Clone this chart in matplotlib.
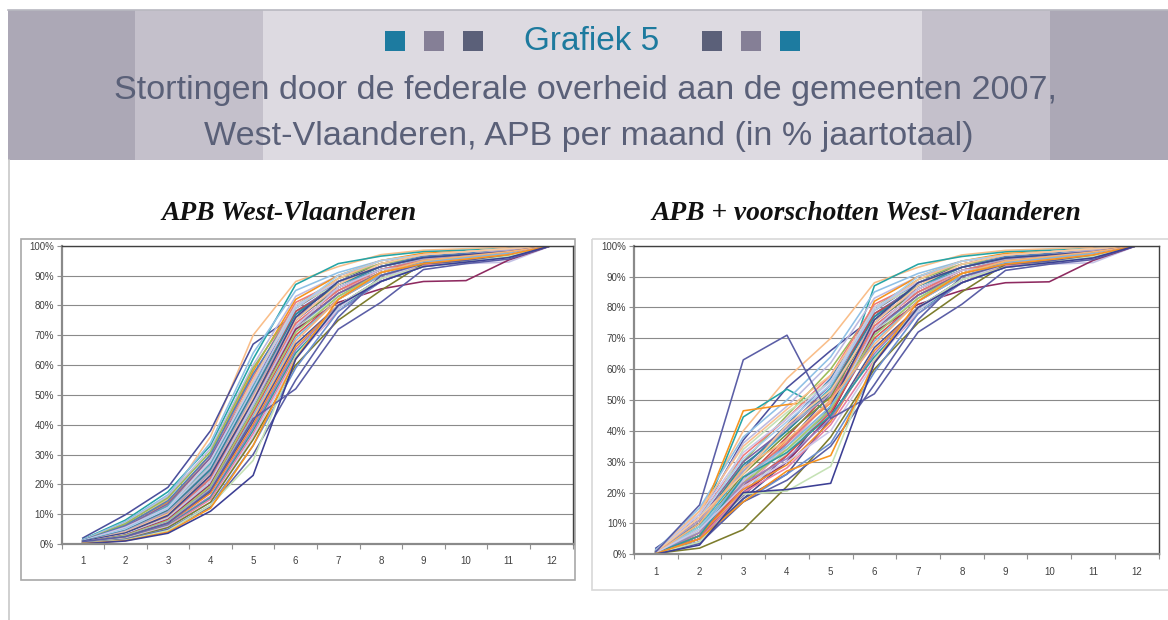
import matplotlib
matplotlib.use('Agg')
import matplotlib.pyplot as plt
from matplotlib.patches import Rectangle
from matplotlib.ticker import FixedLocator, PercentFormatter

# cumulatieve APB-stortingen per maand (in % jaartotaal), 1 waarde per gemeente
maanden = list(range(1, 13))
m01 = [1.2, 2.0, 1.5, 1.4, 1.3, 1.0, 1.1, 0.9, 1.2, 0.8, 1.0, 0.7, 0.9, 0.6, 1.1, 0.8,
       0.7, 1.0, 0.5, 0.9, 0.6, 0.8, 0.5, 0.7, 0.4, 0.6, 0.5, 0.9, 0.4, 0.6, 0.5, 0.3,
       0.5, 0.3, 0.4, 0.3, 0.5, 0.2, 0.4, 0.2, 0.5, 0.3, 0.2, 0.2, 0.3, 0.8, 0.2, 0.1]
m02 = [6.0, 9.8, 8.0, 7.5, 7.0, 6.5, 6.8, 5.5, 6.2, 5.0, 5.8, 4.8, 5.2, 4.6, 5.6, 4.4,
       4.2, 5.0, 3.8, 4.5, 3.9, 4.3, 3.6, 4.0, 3.4, 3.5, 3.3, 3.7, 3.0, 3.2, 3.0, 2.8,
       2.9, 2.6, 2.5, 2.4, 2.3, 2.1, 2.0, 1.9, 1.8, 1.6, 1.5, 1.4, 1.3, 2.5, 1.1, 1.0]
m03 = [15.0, 19.0, 17.5, 16.5, 16.0, 14.0, 15.5, 13.0, 14.5, 12.5, 13.5, 12.0, 12.8, 11.5, 12.2, 11.0,
       10.5, 11.8, 10.0, 11.2, 10.2, 10.8, 9.5, 10.0, 9.0, 9.2, 8.8, 9.6, 8.5, 8.6, 8.2, 8.0,
       7.8, 7.5, 7.2, 7.0, 6.8, 6.5, 6.2, 6.0, 5.8, 5.5, 5.0, 4.8, 4.5, 7.0, 4.0, 3.6]
m04 = [36, 38, 33, 34, 32, 30, 31, 29, 30, 28, 29, 27, 27, 26, 28, 25,
       24, 26, 23, 25, 22, 24, 22, 23, 21, 22, 21, 23, 20, 21, 20, 19,
       19.5, 18.5, 18, 17.5, 17, 16, 15.5, 15, 14, 14, 13, 12.5, 13, 18, 12, 11]
m05 = [70, 67, 62, 64, 60, 58, 59, 56, 57, 55, 54, 55, 53, 52, 54, 51,
       50, 52, 49, 51, 48, 50, 47, 49, 46, 47, 45, 48, 46, 47, 45, 44,
       45, 43, 42, 41, 40, 39, 38, 37, 36, 35, 33, 30, 28, 42, 33, 23]
m06 = [88, 77, 87, 85, 83, 82, 80, 81, 79, 80, 78, 79, 77, 78, 80, 75,
       76, 79, 74, 77, 73, 76, 72, 75, 73, 74, 72, 76, 71, 73, 72, 70,
       71, 69, 68, 67, 66, 65, 64, 63, 62, 60, 59, 55, 63, 52, 62, 62]
m07 = [93, 88, 94, 91, 90, 90, 89, 88, 88, 87, 87, 89, 87, 86, 88, 86,
       85, 90, 85, 87, 84, 86, 84, 87, 84, 85, 83, 88, 83, 86, 81, 82,
       83, 82, 82, 80, 80, 80, 79, 78, 79, 75, 78, 76, 80, 72, 82, 80]
m08 = [97, 94, 96.5, 95, 94, 95, 94, 93, 93, 92, 93, 95, 92, 92, 93, 92,
       91, 95, 91, 93, 91, 92, 90, 94, 91, 92, 90, 93, 90, 92, 85.5, 90,
       91, 90, 91, 89, 88, 89, 88, 88, 89, 85, 88, 90, 89, 81, 91, 88]
m09 = [98.5, 97, 98, 97, 96, 97.5, 96, 96, 96.5, 95, 96, 97, 95.5, 95, 96, 95,
       95, 97, 94.5, 96, 95, 95.5, 94, 97, 94.5, 95, 94, 96, 94, 93.5, 88, 94,
       95, 94.5, 95, 94, 93.5, 94, 93, 93.5, 94, 94, 93, 94, 93, 92, 94, 93]
m10 = [99, 98, 98.5, 98, 97, 98, 97.5, 97, 97.5, 96.5, 97, 98, 96.5, 96.5, 97, 96,
       96.5, 98, 96, 97, 96, 97, 95.5, 98, 96, 96, 95.5, 97, 95.5, 94, 88.3, 95.5,
       96, 96, 96.5, 95, 95, 95.5, 95, 95, 95.5, 95, 94.5, 95, 94.5, 94, 95.5, 94.5]
m11 = [99.5, 99, 99, 99, 98.5, 99, 98.5, 98, 98.5, 98, 98, 99, 98, 97.5, 98.5, 97.5,
       98, 99, 97.5, 98, 97, 98.5, 97, 99, 97.5, 97.5, 97, 98, 97, 94.5, 95.2, 97,
       97.5, 97.5, 98, 97, 96.5, 97, 96.5, 97, 97, 96.5, 96.5, 96.5, 96.5, 95.5, 97, 96]
m12 = [100] * 48

# APB + voorschotten: maanden 2 t/m 5 wijken af, de rest is gelijk
v02 = [14, 12, 10, 15, 13, 11, 9, 12, 10, 8, 11, 14, 9, 7, 13, 6,
       8, 12, 7, 10, 6, 11, 5, 12, 6, 8, 7, 4, 9, 8, 5, 6,
       7, 8, 10, 5, 6, 7, 6, 5, 8, 2, 4, 3.5, 4, 16, 5, 3]
v03 = [40, 37, 44.5, 38, 36, 46.5, 30, 32, 28, 34, 30, 35, 27, 24, 33, 22,
       26, 31, 21, 29, 23, 27, 20, 26, 19, 25, 19.5, 18, 24, 24, 20, 22,
       23, 25, 28, 18, 21, 23, 25, 20, 22, 8, 17, 17, 19.5, 63, 17, 20]
v04 = [57, 54, 53.5, 50, 48, 48.5, 45, 44, 42, 46, 41, 47, 40, 38, 44, 36,
       39, 43, 35, 40, 37, 41, 33, 42, 32, 36, 33, 30, 34, 35, 30, 32,
       34, 35, 37, 26, 29, 31, 33, 28, 30, 22, 26, 24, 20.5, 71, 27, 21]
v05 = [70, 66, 46, 64, 62, 50, 60, 58, 57, 56, 55, 58, 54, 53, 56, 52,
       51, 55, 50, 53, 49, 52, 48, 53, 47, 50, 48, 48, 46, 47, 45, 46,
       47, 48, 50, 44, 43, 44, 45, 42, 40, 38, 36, 35, 28.5, 44, 32, 23]

kleuren = ['#f9be8a', '#4b4f9c', '#25a5a6', '#8fc0e6', '#bdbae0', '#f7931e', '#9bbb59', '#ee7b7b',
           '#4f81bd', '#c3e0b8', '#8064a2', '#fac090', '#4bacc6', '#c0504d', '#c9c6e8', '#5a5fa5',
           '#77933c', '#a9cdee', '#e89ab4', '#31859c', '#f79646', '#b3a2c7', '#558ed5', '#fbc89a',
           '#7f5fa0', '#e57373', '#d0e6c2', '#3f4a8f', '#93cddd', '#c4c2e6', '#8e2a60', '#d9534f',
           '#a6c86a', '#7fb7de', '#f7b27a', '#4d5499', '#f28a2e', '#9d7fc0', '#2e9ba0', '#e67fa3',
           '#cac8ea', '#7c7c2c', '#6b8fd0', '#5a5fa5', '#c5e2b5', '#5b5ea6', '#f7931e', '#3c3f94']

apb = [m01, m02, m03, m04, m05, m06, m07, m08, m09, m10, m11, m12]
apb_vs = [m01, v02, v03, v04, v05, m06, m07, m08, m09, m10, m11, m12]

W, H = 1168, 620
fig = plt.figure(figsize=(W / 100, H / 100), dpi=100)

# achtergrond / kader in pixelcoordinaten
bg = fig.add_axes([0, 0, 1, 1])
bg.set_xlim(0, W)
bg.set_ylim(H, 0)
bg.axis('off')
for x0, x1, c in [(8, 135, '#aca8b6'), (135, 263, '#c4c0cb'), (263, 922, '#dddae1'),
                  (922, 1050, '#c4c0cb'), (1050, W, '#aca8b6')]:
    bg.add_patch(Rectangle((x0, 10), x1 - x0, 150, color=c, lw=0))
bg.plot([8, W], [9.5, 9.5], color='#b8b8c0', lw=1.2)
bg.plot([8.5, 8.5], [160, H], color='#c8c8c8', lw=1.2)
bg.add_patch(Rectangle((20.5, 238.5), 554, 341, fill=False, ec='#a8a8a8', lw=1.2))
bg.add_patch(Rectangle((592, 238.5), 590, 351, fill=False, ec='#d8d8d8', lw=1.2))

sq = ['#1d7ba0', '#857f96', '#5b6079']
for x, c in zip([385, 424, 463, 702, 741, 780], sq + sq[::-1]):
    bg.add_patch(Rectangle((x, 31), 20, 20, color=c, lw=0))
bg.text(592, 50.5, 'Grafiek 5', ha='center', va='baseline', fontsize=24,
        family='Liberation Sans', color='#1d7a9e')
bg.text(585, 99, 'Stortingen door de federale overheid aan de gemeenten 2007,',
        ha='center', va='baseline', fontsize=24.6, family='Liberation Sans', color='#5a6078')
bg.text(589, 145, 'West-Vlaanderen, APB per maand (in % jaartotaal)',
        ha='center', va='baseline', fontsize=24.6, family='Liberation Sans', color='#5a6078')
bg.text(289, 220, 'APB West-Vlaanderen', ha='center', va='baseline', fontsize=19.8,
        family='Liberation Serif', weight='bold', style='italic', color='#111111')
bg.text(866, 220, 'APB + voorschotten West-Vlaanderen', ha='center', va='baseline', fontsize=19.8,
        family='Liberation Serif', weight='bold', style='italic', color='#111111')


def teken(ax, reeksen):
    ax.set_facecolor('white')
    for i in range(len(kleuren)):
        ax.plot(maanden, [m[i] for m in reeksen], color=kleuren[i], lw=1.15)
    ax.set_xlim(0.5, 12.5)
    ax.set_ylim(0, 100)
    ax.set_yticks(range(0, 101, 10))
    ax.yaxis.set_major_formatter(PercentFormatter(decimals=0))
    ax.set_xticks(maanden)
    ax.xaxis.set_minor_locator(FixedLocator([k + 0.5 for k in range(0, 13)]))
    ax.tick_params(axis='x', which='major', length=0, pad=9, labelsize=7, labelcolor='#404040')
    ax.tick_params(axis='x', which='minor', length=3.5, width=0.8, color='#909090', direction='out')
    ax.tick_params(axis='y', length=3.5, width=0.8, color='#909090', pad=2,
                   labelsize=7, labelcolor='#404040')
    ax.grid(axis='y', color='#8a8a8a', lw=0.8)
    ax.set_axisbelow(True)
    for s in ['left', 'bottom']:
        ax.spines[s].set_color('#8a8a8a')
        ax.spines[s].set_linewidth(1.6)
    for s in ['top', 'right']:
        ax.spines[s].set_color('#404040')
        ax.spines[s].set_linewidth(1.0)
    for lab in ax.get_xticklabels() + ax.get_yticklabels():
        lab.set_family('Liberation Sans')


ax1 = fig.add_axes([61.5 / W, (H - 544) / H, 511 / W, 298.3 / H])
teken(ax1, apb)
ax2 = fig.add_axes([634 / W, (H - 554.3) / H, 524.5 / W, 308.6 / H])
teken(ax2, apb_vs)

fig.savefig('out.png', dpi=100)
